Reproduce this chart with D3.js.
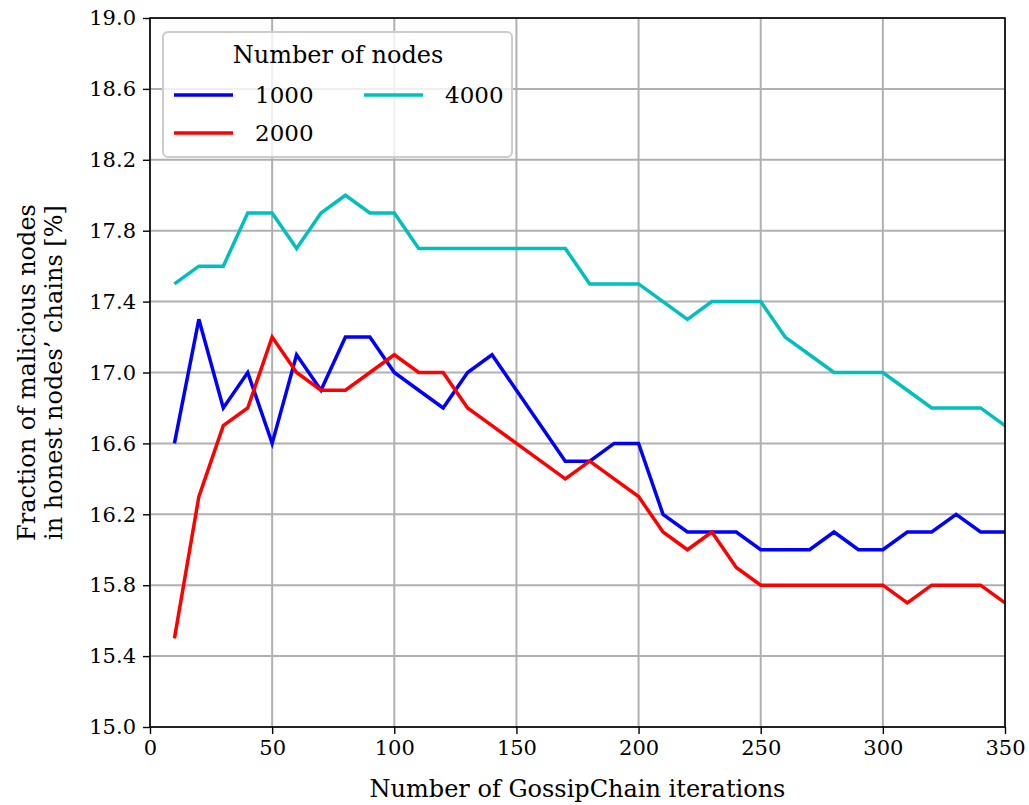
<!DOCTYPE html>
<html>
<head>
<meta charset="utf-8">
<script src="https://cdn.jsdelivr.net/npm/d3@7"></script>
<style>
  body { margin: 0; background: #fff; }
  #chart-area { width: 1029px; height: 805px; }
  text { fill: #000; }
</style>
</head>
<body>
<div id="chart-area"></div>
<script>
// iterations on the x axis
const iterations = [10, 20, 30, 40, 50, 60, 70, 80, 90, 100, 110, 120, 130, 140, 150, 160, 170, 180,
    190, 200, 210, 220, 230, 240, 250, 260, 270, 280, 290, 300, 310, 320, 330, 340, 350];

// fraction of malicious nodes [%] per number of nodes
const nodes1000 = [16.6, 17.3, 16.8, 17.0, 16.6, 17.1, 16.9, 17.2, 17.2, 17.0, 16.9, 16.8, 17.0, 17.1, 16.9, 16.7, 16.5, 16.5,
    16.6, 16.6, 16.2, 16.1, 16.1, 16.1, 16.0, 16.0, 16.0, 16.1, 16.0, 16.0, 16.1, 16.1, 16.2, 16.1, 16.1];
const nodes2000 = [15.5, 16.3, 16.7, 16.8, 17.2, 17.0, 16.9, 16.9, 17.0, 17.1, 17.0, 17.0, 16.8, 16.7, 16.6, 16.5, 16.4, 16.5,
    16.4, 16.3, 16.1, 16.0, 16.1, 15.9, 15.8, 15.8, 15.8, 15.8, 15.8, 15.8, 15.7, 15.8, 15.8, 15.8, 15.7];
const nodes4000 = [17.5, 17.6, 17.6, 17.9, 17.9, 17.7, 17.9, 18.0, 17.9, 17.9, 17.7, 17.7, 17.7, 17.7, 17.7, 17.7, 17.7, 17.5,
    17.5, 17.5, 17.4, 17.3, 17.4, 17.4, 17.4, 17.2, 17.1, 17.0, 17.0, 17.0, 16.9, 16.8, 16.8, 16.8, 16.7];

const seriesNames = ["1000", "2000", "4000"];
const seriesValues = [nodes1000, nodes2000, nodes4000];
const seriesColors = ["#0000ff", "#ff0000", "#00bfbf"];

const xTicks = [0, 50, 100, 150, 200, 250, 300, 350];
const yTicks = [15.0, 15.4, 15.8, 16.2, 16.6, 17.0, 17.4, 17.8, 18.2, 18.6, 19.0];

const fontFamily = "'DejaVu Serif', 'Liberation Serif', serif";

let margin = {top: 18, right: 24, bottom: 78, left: 150};
let width = 1029 - margin.left - margin.right;
let height = 805 - margin.top - margin.bottom;

let svg = d3.select("#chart-area").append("svg")
    .attr("width", 1029)
    .attr("height", 805)
    .attr("font-family", fontFamily)
    .append("g")
    .attr("transform", "translate(" + margin.left + "," + margin.top + ")");

// scales
let xScale = d3.scaleLinear().domain([0, 350]).range([0, width]);
let yScale = d3.scaleLinear().domain([15, 19]).range([height, 0]);

// grid
svg.append("g").selectAll("line")
    .data(xTicks)
    .enter().append("line")
    .attr("x1", d => xScale(d)).attr("x2", d => xScale(d))
    .attr("y1", 0).attr("y2", height)
    .attr("stroke", "#b0b0b0").attr("stroke-width", 2);
svg.append("g").selectAll("line")
    .data(yTicks)
    .enter().append("line")
    .attr("x1", 0).attr("x2", width)
    .attr("y1", d => yScale(d)).attr("y2", d => yScale(d))
    .attr("stroke", "#b0b0b0").attr("stroke-width", 2);

// lines
let line = d3.line()
    .x((d, i) => xScale(iterations[i]))
    .y(d => yScale(d));

svg.selectAll(".line")
    .data(seriesValues)
    .enter().append("path")
    .attr("class", "line")
    .attr("fill", "none")
    .attr("stroke", (d, i) => seriesColors[i])
    .attr("stroke-width", 3.5)
    .attr("d", line);

// frame
svg.append("rect")
    .attr("width", width).attr("height", height)
    .attr("fill", "none").attr("stroke", "#000").attr("stroke-width", 1.6);

// axes
let xAxis = svg.append("g")
    .attr("transform", "translate(0," + height + ")")
    .call(d3.axisBottom(xScale).tickValues(xTicks).tickSize(7).tickPadding(6).tickFormat(d3.format("d")));
let yAxis = svg.append("g")
    .call(d3.axisLeft(yScale).tickValues(yTicks).tickSize(7).tickPadding(7).tickFormat(d3.format(".1f")));

[xAxis, yAxis].forEach(ax => {
    ax.attr("font-family", fontFamily).attr("font-size", 21);
    ax.select(".domain").remove();
    ax.selectAll(".tick line").attr("stroke", "#000").attr("stroke-width", 1.4);
});

// axis labels
svg.append("text")
    .attr("x", width / 2)
    .attr("y", height + 70)
    .attr("text-anchor", "middle")
    .style("font-size", "24px")
    .text("Number of GossipChain iterations");

let yLabel = svg.append("text")
    .attr("transform", "translate(" + (-115) + "," + (height / 2) + ") rotate(-90)")
    .attr("text-anchor", "middle")
    .style("font-size", "24px");
yLabel.append("tspan").attr("x", 0).attr("dy", 0).text("Fraction of malicious nodes");
yLabel.append("tspan").attr("x", 0).attr("dy", 27).text("in honest nodes\u2019 chains [%]");

// legend
let legend = svg.append("g").attr("transform", "translate(13,14)");
legend.append("rect")
    .attr("width", 349).attr("height", 125)
    .attr("rx", 5)
    .attr("fill", "#fff").attr("fill-opacity", 0.8)
    .attr("stroke", "#cccccc").attr("stroke-width", 2);
legend.append("text")
    .attr("x", 175).attr("y", 31)
    .attr("text-anchor", "middle")
    .style("font-size", "24px")
    .text("Number of nodes");

let legendPos = [[0, 0], [0, 1], [1, 0]];
let items = legend.selectAll(".item")
    .data(seriesNames)
    .enter().append("g")
    .attr("class", "item")
    .attr("transform", (d, i) => "translate(" + (11 + legendPos[i][0] * 190) + "," + (63 + legendPos[i][1] * 38) + ")");
items.append("line")
    .attr("x1", 0).attr("x2", 59)
    .attr("stroke", (d, i) => seriesColors[i])
    .attr("stroke-width", 3.5);
items.append("text")
    .attr("x", 81).attr("y", 8)
    .style("font-size", "23px")
    .text(d => d);
</script>
</body>
</html>
